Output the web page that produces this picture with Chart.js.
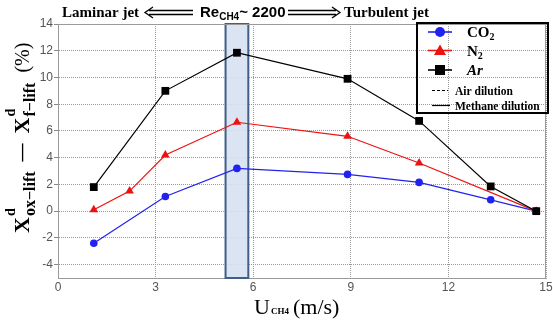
<!DOCTYPE html>
<html>
<head>
<meta charset="utf-8">
<script src="https://cdn.jsdelivr.net/npm/chart.js@4"></script>
<style>
    html, body { margin: 0; padding: 0; background: #fff; }
</style>
</head>
<body>
<canvas id="chart" width="553" height="321"></canvas>
<script>
// values (U_CH4 in m/s, difference in %)
const xCO2 = [1.1, 3.3, 5.5, 8.9, 11.1, 13.3, 14.7];
const yCO2 = [-2.4, 1.1, 3.2, 2.75, 2.15, 0.85, 0];
const xN2 = [1.1, 2.2, 3.3, 5.5, 8.9, 11.1, 14.7];
const yN2 = [0.1, 1.5, 4.2, 6.65, 5.6, 3.6, 0];
const xAr = [1.1, 3.3, 5.5, 8.9, 11.1, 13.3, 14.7];
const yAr = [1.8, 9.0, 11.85, 9.9, 6.75, 1.85, 0];
const transitionBand = [5.15, 5.85];
const xTicks = [0, 3, 6, 9, 12, 15];
const yTicks = [-4, -2, 0, 2, 4, 6, 8, 10, 12, 14];

const SERIF = "'Liberation Serif', serif";
const SANS = "'Liberation Sans', Arial, sans-serif";

const toPoints = (xs, ys) => xs.map((x, i) => ({ x: x, y: ys[i] }));

// draws a row of text pieces: [text, font, dy, noAdvance]
function runText(ctx, parts, x, y) {
    let cx = x;
    for (const p of parts) {
        ctx.font = p[1];
        ctx.fillText(p[0], cx, y + (p[2] || 0));
        if (!p[3]) cx += ctx.measureText(p[0]).width;
    }
    return cx;
}

function dblArrow(ctx, x1, x2, y, dir) {
    const tip = dir > 0 ? x2 : x1;
    const tail = dir > 0 ? x1 : x2;
    ctx.save();
    ctx.strokeStyle = '#000';
    ctx.lineWidth = 1.3;
    ctx.beginPath();
    ctx.moveTo(tail, y - 2); ctx.lineTo(tip - dir * 4, y - 2);
    ctx.moveTo(tail, y + 2); ctx.lineTo(tip - dir * 4, y + 2);
    ctx.moveTo(tip - dir * 8, y - 5.5); ctx.lineTo(tip, y); ctx.lineTo(tip - dir * 8, y + 5.5);
    ctx.stroke();
    ctx.restore();
}

function marker(ctx, style, x, y, color) {
    ctx.fillStyle = color;
    ctx.beginPath();
    if (style === 'circle') {
        ctx.arc(x, y, 5, 0, Math.PI * 2);
    } else if (style === 'triangle') {
        ctx.moveTo(x, y - 6); ctx.lineTo(x + 6, y + 4.5); ctx.lineTo(x - 6, y + 4.5); ctx.closePath();
    } else {
        ctx.rect(x - 5, y - 5, 10, 10);
    }
    ctx.fill();
}

const bandPlugin = {
    id: 'band',
    beforeDatasetsDraw(chart) {
        const { ctx, chartArea, scales } = chart;
        const x1 = scales.x.getPixelForValue(transitionBand[0]);
        const x2 = scales.x.getPixelForValue(transitionBand[1]);
        ctx.save();
        ctx.fillStyle = 'rgba(214, 225, 241, 0.9)';
        ctx.fillRect(x1, chartArea.top, x2 - x1, chartArea.bottom - chartArea.top);
        ctx.strokeStyle = '#3f5f85';
        ctx.lineWidth = 2;
        ctx.strokeRect(x1, chartArea.top, x2 - x1, chartArea.bottom - chartArea.top);
        // top and right frame lines
        ctx.strokeStyle = '#9a9a9a';
        ctx.lineWidth = 1;
        ctx.beginPath();
        ctx.moveTo(chartArea.left, chartArea.top + 0.5);
        ctx.lineTo(chartArea.right, chartArea.top + 0.5);
        ctx.moveTo(chartArea.right - 0.5, chartArea.top);
        ctx.lineTo(chartArea.right - 0.5, chartArea.bottom);
        ctx.stroke();
        ctx.restore();
    }
};

const textPlugin = {
    id: 'texts',
    afterDraw(chart) {
        const ctx = chart.ctx;
        ctx.save();
        ctx.fillStyle = '#000';
        ctx.textBaseline = 'alphabetic';

        // top annotation
        runText(ctx, [['Laminar jet', 'bold 15px ' + SERIF]], 62, 17);
        dblArrow(ctx, 145, 193, 12.5, -1);
        runText(ctx, [
            ['Re', 'bold 15px ' + SANS],
            ['CH4', 'bold 10px ' + SANS, 3],
            ['~ 2200', 'bold 15px ' + SANS]
        ], 200, 17);
        dblArrow(ctx, 288, 340, 12.5, 1);
        runText(ctx, [['Turbulent jet', 'bold 15px ' + SERIF]], 344, 17);

        // x-axis title
        runText(ctx, [['U', '22px ' + SERIF]], 254, 314);
        runText(ctx, [['CH4', 'bold 9px ' + SERIF]], 271, 314);
        runText(ctx, [['(m/s)', '22px ' + SERIF]], 293, 314);

        // y-axis title, rotated
        ctx.save();
        ctx.translate(29, 233);
        ctx.rotate(-Math.PI / 2);
        let p = runText(ctx, [['X', 'bold 22px ' + SERIF]], 0, 0);
        runText(ctx, [['d', 'bold 14px ' + SERIF]], p + 1, -14);
        p = runText(ctx, [['ox\u2212lift', 'bold 16px ' + SERIF]], p + 1, 6);
        p = runText(ctx, [['\u2014', 'bold 18px ' + SERIF]], p + 10, -2);
        p = runText(ctx, [['X', 'bold 22px ' + SERIF]], p + 10, 0);
        runText(ctx, [['d', 'bold 14px ' + SERIF]], p + 1, -14);
        p = runText(ctx, [['f\u2212lift', 'bold 16px ' + SERIF]], p + 1, 6);
        runText(ctx, [['(%)', '20px ' + SERIF]], p + 10, 0);
        ctx.restore();

        // legend box
        ctx.strokeStyle = '#000';
        ctx.lineWidth = 2;
        ctx.strokeRect(417, 23, 131, 90);
        const rows = [
            { y: 32, color: '#2222ee', style: 'circle', label: [['CO', 'bold 15px ' + SERIF], ['2', 'bold 10px ' + SERIF, 3]] },
            { y: 50.5, color: '#ee1111', style: 'triangle', label: [['N', 'bold 15px ' + SERIF], ['2', 'bold 10px ' + SERIF, 3]] },
            { y: 70, color: '#000000', style: 'rect', label: [['Ar', 'bold italic 15px ' + SERIF]] }
        ];
        for (const r of rows) {
            ctx.strokeStyle = r.color;
            ctx.lineWidth = 1.6;
            ctx.beginPath();
            ctx.moveTo(428, r.y); ctx.lineTo(452, r.y);
            ctx.stroke();
            marker(ctx, r.style, 440, r.y, r.color);
            ctx.fillStyle = '#000';
            runText(ctx, r.label, 467, r.y + 5);
        }
        ctx.strokeStyle = '#000';
        ctx.lineWidth = 1.2;
        ctx.setLineDash([3, 2]);
        ctx.beginPath(); ctx.moveTo(432, 90.5); ctx.lineTo(448, 90.5); ctx.stroke();
        ctx.setLineDash([]);
        ctx.beginPath(); ctx.moveTo(432, 105.5); ctx.lineTo(450, 105.5); ctx.stroke();
        runText(ctx, [['Air dilution', 'bold 11.5px ' + SERIF]], 455, 94.5);
        runText(ctx, [['Methane dilution', 'bold 11.5px ' + SERIF]], 455, 109.5);
        ctx.restore();
    }
};

const lineSet = (label, pts, color, style, radius) => ({
    label: label,
    data: pts,
    showLine: true,
    borderColor: color,
    backgroundColor: color,
    borderWidth: 1.2,
    pointStyle: style,
    pointRadius: radius,
    pointBorderWidth: 0,
    pointHoverRadius: radius,
    tension: 0
});

new Chart(document.getElementById('chart'), {
    type: 'scatter',
    data: {
        datasets: [
            lineSet('Ar', toPoints(xAr, yAr), '#000000', 'rect', 5.5),
            lineSet('N2', toPoints(xN2, yN2), '#ee1111', 'triangle', 5),
            lineSet('CO2', toPoints(xCO2, yCO2), '#2222ee', 'circle', 3.8)
        ]
    },
    options: {
        responsive: false,
        animation: false,
        devicePixelRatio: 1,
        layout: { padding: { top: 24, right: 7, left: 0, bottom: 0 } },
        plugins: {
            legend: { display: false },
            tooltip: { enabled: false }
        },
        scales: {
            x: {
                type: 'linear',
                min: 0,
                max: 15,
                afterFit: s => { s.height = 43; s.paddingLeft = 0; s.paddingRight = 0; },
                afterBuildTicks: axis => { axis.ticks = xTicks.map(v => ({ value: v })); },
                grid: { color: '#999999', lineWidth: 1, drawTicks: false },
                border: { display: true, color: '#9a9a9a', dash: [1, 1] },
                ticks: { color: '#555', padding: 2, font: { family: SANS, size: 12 } }
            },
            y: {
                min: -5,
                max: 14,
                afterFit: s => { s.width = 58; s.paddingTop = 0; s.paddingBottom = 0; },
                afterBuildTicks: axis => { axis.ticks = yTicks.map(v => ({ value: v })); },
                grid: { color: '#999999', lineWidth: 1, tickLength: 4, tickColor: '#888' },
                border: { display: true, color: '#9a9a9a', dash: [1, 1] },
                ticks: { color: '#555', padding: 1, font: { family: SANS, size: 12 } }
            }
        }
    },
    plugins: [bandPlugin, textPlugin]
});
</script>
</body>
</html>
